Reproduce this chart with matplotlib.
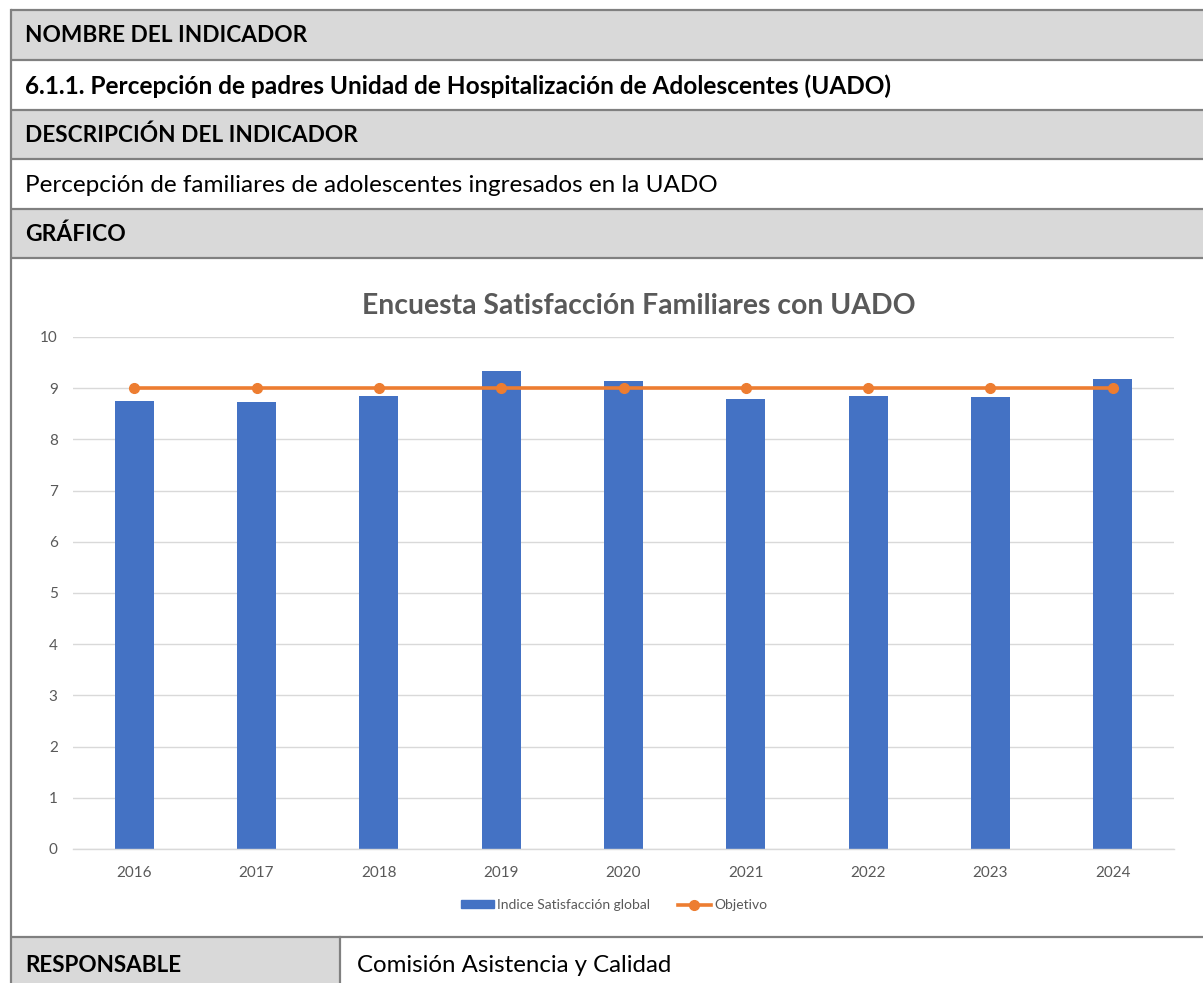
"""Ficha de indicador 6.1.1 - encuesta de satisfacción de familiares (UADO)."""

import matplotlib
matplotlib.use("Agg")
import matplotlib.pyplot as plt
from matplotlib.patches import Rectangle
from matplotlib.lines import Line2D
import numpy as np

plt.rcParams["font.family"] = ["Lato", "DejaVu Sans"]

# ---------------------------------------------------------------------------
# Datos
# ---------------------------------------------------------------------------
anios = ["2016", "2017", "2018", "2019", "2020", "2021", "2022", "2023", "2024"]
indice_satisfaccion = [8.75, 8.73, 8.84, 9.33, 9.15, 8.78, 8.85, 8.82, 9.17]
objetivo = [9, 9, 9, 9, 9, 9, 9, 9, 9]

titulo = "Encuesta Satisfacción Familiares con UADO"
serie_barras = "Indice Satisfacción global"
serie_linea = "Objetivo"

# (texto, peso, fondo gris, tamaño)
filas = [
    ("NOMBRE DEL INDICADOR", "bold", True, 16.3),
    ("6.1.1. Percepción de padres Unidad de Hospitalización de Adolescentes (UADO)", "bold", False, 17.6),
    ("DESCRIPCIÓN DEL INDICADOR", "bold", True, 16.3),
    ("Percepción de familiares de adolescentes ingresados en la UADO", "normal", False, 17.5),
    ("GRÁFICO", "bold", True, 16.5),
]
responsable_lbl = "RESPONSABLE"
responsable_val = "Comisión Asistencia y Calidad"

# ---------------------------------------------------------------------------
# Figura
# ---------------------------------------------------------------------------
W, H = 1203, 983
fig = plt.figure(figsize=(W / 100, H / 100), dpi=100)

bg = fig.add_axes([0, 0, 1, 1])
bg.set_xlim(0, W)
bg.set_ylim(H, 0)
bg.axis("off")

gris = "#D9D9D9"
borde = "#808080"
x0, x1 = 11, W + 10

# filas de cabecera
limites = [10, 60, 110, 159, 209, 258]
for (texto, peso, relleno, tam), (ya, yb) in zip(filas, zip(limites[:-1], limites[1:])):
    bg.add_patch(Rectangle((x0, ya), x1 - x0, yb - ya,
                           facecolor=gris if relleno else "white", edgecolor="none"))
    bg.text(25, (ya + yb) / 2 + 1, texto, fontsize=tam, fontweight=peso,
            color="black", va="center", ha="left")

# fila responsable
y_resp = 937
bg.add_patch(Rectangle((x0, y_resp), 340 - x0, H + 10 - y_resp,
                       facecolor=gris, edgecolor="none"))
bg.text(25, 966, responsable_lbl, fontsize=16.2, fontweight="bold",
        va="center", ha="left")
bg.text(357, 966, responsable_val, fontsize=17.3, va="center", ha="left")

for y in limites + [y_resp]:
    bg.plot([x0, x1], [y, y], color=borde, lw=1.6, solid_capstyle="butt")
bg.plot([x0, x0], [limites[0], H + 10], color=borde, lw=1.6)
bg.plot([340, 340], [y_resp, H + 10], color=borde, lw=1.6)

# ---------------------------------------------------------------------------
# Gráfico
# ---------------------------------------------------------------------------
px_l, px_r, py_t, py_b = 73, 1174, 337, 849
ax = fig.add_axes([px_l / W, 1 - py_b / H, (px_r - px_l) / W, (py_b - py_t) / H])

x = np.arange(len(anios))
ax.bar(x, indice_satisfaccion, width=0.32, color="#4472C4", zorder=2,
       label=serie_barras)
ax.plot(x, objetivo, color="#ED7D31", lw=2.6, marker="o", markersize=7,
        zorder=3, label=serie_linea)

ax.set_xlim(-0.5, len(anios) - 0.5)
ax.set_ylim(0, 10)
ax.set_yticks(np.arange(0, 11, 1))
ax.set_xticks(x)
ax.set_xticklabels(anios)
ax.grid(axis="y", color="#D9D9D9", lw=1.0, zorder=0)
ax.set_axisbelow(True)
for lado in ["top", "right", "left"]:
    ax.spines[lado].set_visible(False)
ax.spines["bottom"].set_color("#D9D9D9")
ax.spines["bottom"].set_linewidth(1.0)
ax.tick_params(axis="both", length=0, labelsize=11, labelcolor="#595959")
ax.tick_params(axis="y", pad=11)
ax.tick_params(axis="x", pad=12)

fig.text((362 + 915) / 2 / W, 1 - 306 / H, titulo, fontsize=20.4,
         fontweight="bold", color="#595959", ha="center", va="center")

leg = fig.legend(
    handles=[Rectangle((0, 0), 1, 1, color="#4472C4"),
             Line2D([], [], color="#ED7D31", lw=2.6, marker="o", markersize=7)],
    labels=[serie_barras, serie_linea],
    loc="center", bbox_to_anchor=(614 / W, 1 - 905 / H), ncol=2,
    frameon=False, fontsize=10, labelcolor="#595959",
    handlelength=2.4, handleheight=0.5, columnspacing=2.0, handletextpad=0.2,
)

fig.savefig("out.png", dpi=100)
